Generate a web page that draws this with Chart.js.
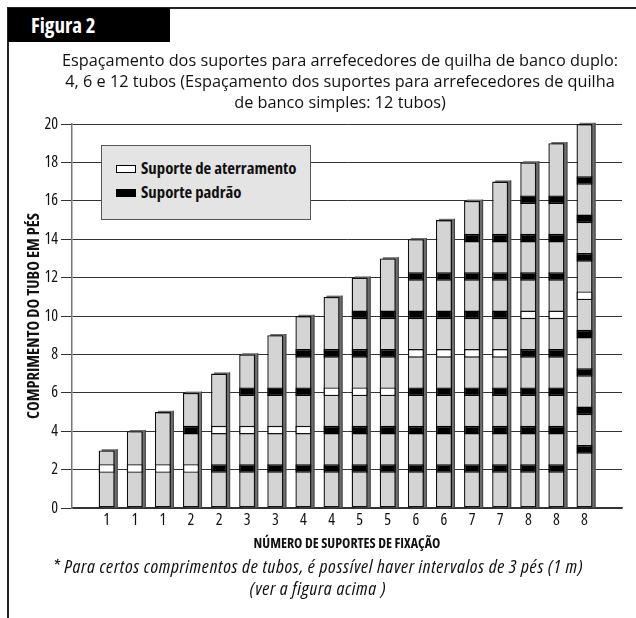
<!DOCTYPE html>
<html><head><meta charset="utf-8">
<script src="https://cdn.jsdelivr.net/npm/chart.js@4.4.1/dist/chart.umd.min.js"></script>
<style>
html,body{margin:0;padding:0;background:#fff;}
#wrap{position:relative;width:636px;height:618px;overflow:hidden;background:#fff;}
#c{position:absolute;left:0;top:0;}
.ftop{position:absolute;left:7px;top:7px;width:629px;height:1.5px;background:#222;}
.fleft{position:absolute;left:7px;top:7px;width:1.5px;height:611px;background:#222;}
.cond{font-family:'Open Sans',sans-serif;}
#hdr{position:absolute;left:8px;top:8px;width:162px;height:34px;background:#000;color:#fff;
 font-weight:bold;font-size:21px;font-stretch:87.5%;line-height:34px;padding-left:23px;box-sizing:border-box;}
#sub{position:absolute;left:44px;top:50px;width:592px;text-align:center;
 font:16.3px 'Open Sans',sans-serif;line-height:21px;color:#111;}
#foot{position:absolute;left:8px;top:555px;width:620px;text-align:center;
 font-style:italic;font-size:19px;font-stretch:87.5%;letter-spacing:0.7px;line-height:22px;color:#111;white-space:nowrap;}
#leg{position:absolute;left:101px;top:145px;width:210px;height:75px;background:#e4e4e4;border:1px solid #555;box-sizing:border-box;
 font-weight:bold;font-size:16.8px;font-stretch:80%;color:#111;}
.it{position:absolute;left:14px;height:20px;line-height:20px;white-space:nowrap;}
.ic{display:inline-block;width:20px;height:8px;vertical-align:middle;margin-right:5px;box-sizing:border-box;border:1px solid #000;position:relative;top:-1px;}
</style></head>
<body>
<div id="wrap">
<canvas id="c" width="636" height="618"></canvas>
<div class="ftop"></div><div class="fleft"></div>
<div id="hdr" class="cond">Figura 2</div>
<div id="sub">Espaçamento dos suportes para arrefecedores de quilha de banco duplo:<br>4, 6 e 12 tubos (Espaçamento dos suportes para arrefecedores de quilha<br>de banco simples: 12 tubos)</div>
<div id="leg" class="cond">
 <div class="it" style="top:12px"><span class="ic" style="background:#fff"></span>Suporte de aterramento</div>
 <div class="it" style="top:36px"><span class="ic" style="background:#000"></span>Suporte padrão</div>
</div>
<div id="foot" class="cond">* Para certos comprimentos de tubos, é possível haver intervalos de 3 pés (1 m)<br>(ver a figura acima )</div>
</div>
<script>
// ---- data ----
const categories = ['1','1','1','2','2','3','3','4','4','5','5','6','6','7','7','8','8','8'];
const tubeLengths = [3,4,5,6,7,8,9,10,11,12,13,14,15,16,17,18,19,20];
const groundSupports = [2,2,2,2,4,4,4,4,6,6,6,8,8,8,8,10,10,11];
const standardSupports = [
  [],[],[],[4],[2],[2,6],[2,6],[2,6,8],[2,4,8],[2,4,8,10],[2,4,8,10],
  [2,4,6,10,12],[2,4,6,10,12],[2,4,6,10,12,14],[2,4,6,10,12,14],
  [2,4,6,8,12,14,16],[2,4,6,8,12,14,16],[3,5,7,9,13,15,17]
];
const yTicks = [0,2,4,6,8,10,12,14,16,18,20];
const xTitle = 'NÚMERO DE SUPORTES DE FIXAÇÃO';
const yTitle = 'COMPRIMENTO DO TUBO EM PÉS';

// band extent (style)
const BELOW = 0.17, ABOVE = 0.28;
const FAM = "'Open Sans', sans-serif";

const tubeData = tubeLengths.map((v,i)=>({x:i,y:v}));
const groundData = groundSupports.map((v,i)=>({x:i,y:[v-BELOW,v+ABOVE]}));
const maxStd = Math.max(...standardSupports.map(a=>a.length));
const stdSets = [];
for (let k=0;k<maxStd;k++){
  const d=[];
  standardSupports.forEach((a,i)=>{ if (a[k]!==undefined) d.push({x:i,y:[a[k]-BELOW,a[k]+ABOVE]}); });
  stdSets.push({label:'Suporte padrão',data:d,backgroundColor:'#000',borderColor:'#000',borderWidth:1.4,borderSkipped:false,order:1});
}

const shadowPlugin = {
  id:'shadow',
  beforeDatasetsDraw(chart){
    const meta = chart.getDatasetMeta(0);
    const ctx = chart.ctx;
    ctx.save();
    meta.data.forEach(el=>{
      const w = el.width;
      ctx.fillStyle = '#6e6e6e';
      ctx.fillRect(el.x - w/2 + 3, el.y - 1.2, w, el.base - el.y + 1.2);
      ctx.fillStyle = '#444';
      ctx.fillRect(el.x + w/2 + 2, el.y - 1.2, 1, el.base - el.y + 1.2);
    });
    ctx.restore();
  }
};

new Chart(document.getElementById('c'), {
  type:'bar',
  data:{
    datasets:[
      {label:'Tubo',data:tubeData,backgroundColor:'#d4d4d4',borderColor:'#111',borderWidth:1.4,borderSkipped:false,order:10},
      {label:'Suporte de aterramento',data:groundData,backgroundColor:'#fff',borderColor:'#111',borderWidth:1.4,borderSkipped:false,order:1},
      ...stdSets
    ]
  },
  options:{
    responsive:false,
    animation:false,
    grouped:false,
    categoryPercentage:1,
    barPercentage:0.571,
    layout:{padding:{left:0,right:14,top:124,bottom:64}},
    plugins:{legend:{display:false},tooltip:{enabled:false}},
    scales:{
      x:{
        type:'linear', min:-0.69, max:17.79,
        afterFit(s){ s.height = 46; },
        grid:{display:false,drawTicks:false,tickLength:0},
        border:{display:true,color:'#333',width:1.5},
        ticks:{stepSize:1,includeBounds:false,autoSkip:false,maxRotation:0,padding:3,color:'#111',
          font:{family:FAM,size:16,weight:'condensed'},
          callback:(v)=> Number.isInteger(v) && categories[v]!==undefined ? categories[v] : ''},
        title:{display:true,text:xTitle,color:'#111',font:{family:FAM,size:14,weight:'bold condensed'},padding:{top:0,bottom:2}}
      },
      y:{
        min:0,max:20,
        afterFit(s){ s.width = 72; },
        afterBuildTicks(s){ s.ticks = yTicks.map(v=>({value:v})); },
        grid:{color:'#333',lineWidth:1,tickLength:11},
        border:{display:true,color:'#777',width:1.5},
        ticks:{padding:3,color:'#111',font:{family:FAM,size:16,weight:'condensed'}},
        title:{display:true,text:yTitle,color:'#111',font:{family:FAM,size:16.5,weight:'bold semi-condensed'},padding:{top:24,bottom:0}}
      }
    }
  },
  plugins:[shadowPlugin]
});
</script>
</body></html>
